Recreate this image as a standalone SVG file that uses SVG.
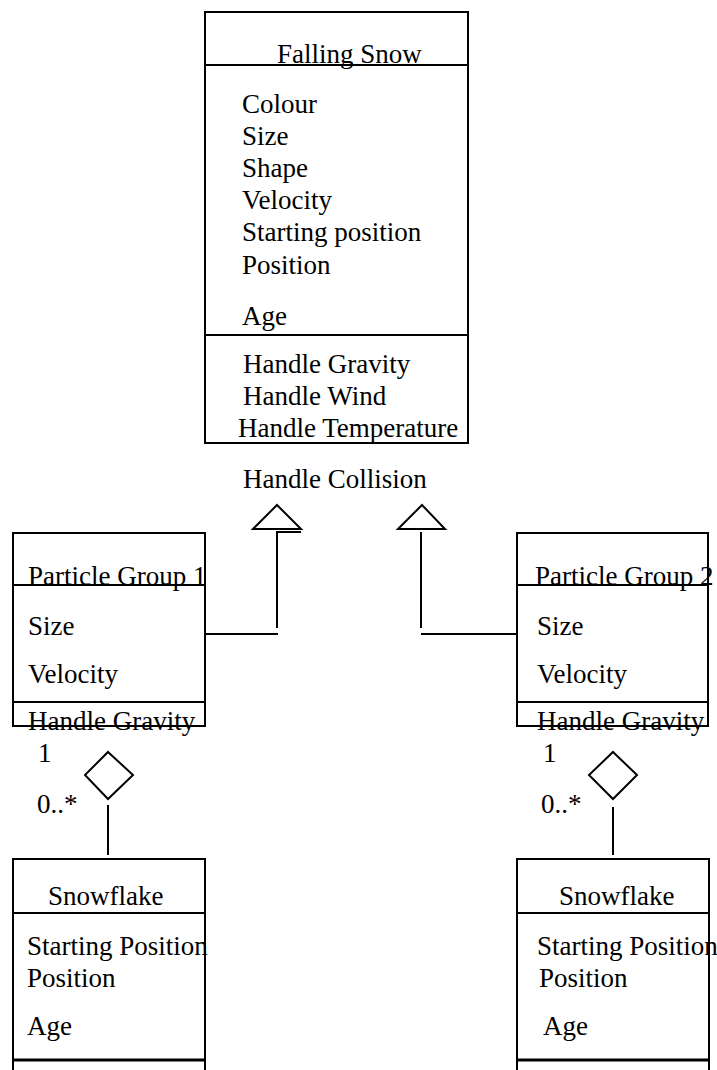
<svg xmlns="http://www.w3.org/2000/svg" width="717" height="1070" viewBox="0 0 717 1070">
<style>
text{font-family:'Liberation Serif','DejaVu Serif',serif;font-size:27px;fill:#000}
.b{fill:none;stroke:#000;stroke-width:2}
.l{stroke:#000;stroke-width:2;fill:none}
.h{fill:#fff;stroke:#000;stroke-width:2}
</style>
<rect width="717" height="1070" fill="#fff"/>
<g font-family="Liberation Serif, DejaVu Serif, serif">
<g id="falling-snow">
<rect class="b" x="205" y="12" width="263" height="431"/>
<line class="l" x1="205" y1="65" x2="468" y2="65"/>
<line class="l" x1="205" y1="335" x2="468" y2="335"/>
<text x="277" y="63">Falling Snow</text>
<text x="242" y="113">Colour</text>
<text x="242" y="145">Size</text>
<text x="242" y="177">Shape</text>
<text x="242" y="209">Velocity</text>
<text x="242" y="241">Starting position</text>
<text x="242" y="274">Position</text>
<text x="242" y="325">Age</text>
<text x="243" y="373">Handle Gravity</text>
<text x="243" y="405">Handle Wind</text>
<text x="238" y="437">Handle Temperature</text>
<text x="243" y="488">Handle Collision</text>
</g>
<g id="particle-group-1">
<rect class="b" x="13" y="533" width="192" height="193"/>
<line class="l" x1="13" y1="585" x2="205" y2="585"/>
<line class="l" x1="13" y1="702" x2="205" y2="702"/>
<text x="28" y="585">Particle Group 1</text>
<text x="28" y="635">Size</text>
<text x="28" y="683">Velocity</text>
<text x="28" y="730">Handle Gravity</text>
<line class="l" x1="13" y1="726" x2="205" y2="726"/>
</g>
<g id="particle-group-2">
<rect class="b" x="517" y="533" width="191" height="193"/>
<line class="l" x1="517" y1="585" x2="708" y2="585"/>
<line class="l" x1="517" y1="702" x2="708" y2="702"/>
<text x="535" y="585">Particle Group 2</text>
<text x="537" y="635">Size</text>
<text x="537" y="683">Velocity</text>
<text x="537" y="730">Handle Gravity</text>
<line class="l" x1="517" y1="726" x2="708" y2="726"/>
</g>
<g id="snowflake-1">
<path class="l" d="M13,1070 V859 H205 V1070"/>
<line class="l" x1="13" y1="913" x2="205" y2="913"/>
<line x1="13" y1="1060" x2="205" y2="1060" stroke="#000" stroke-width="3"/>
<text x="48" y="905">Snowflake</text>
<text x="27" y="955">Starting Position</text>
<text x="27" y="987">Position</text>
<text x="27" y="1035">Age</text>
</g>
<g id="snowflake-2">
<path class="l" d="M517,1070 V859 H709 V1070"/>
<line class="l" x1="517" y1="913" x2="709" y2="913"/>
<line x1="517" y1="1060" x2="709" y2="1060" stroke="#000" stroke-width="3"/>
<text x="559" y="905">Snowflake</text>
<text x="537" y="955">Starting Position</text>
<text x="539" y="987">Position</text>
<text x="543" y="1035">Age</text>
</g>
<g id="connectors">
<polyline class="l" points="205,634 278,634"/>
<polyline class="l" points="277,628 277,532 301,532"/>
<polygon class="h" points="253,529 277,505 301,529"/>
<polyline class="l" points="421,532 421,628"/>
<polyline class="l" points="421,634 517,634"/>
<polygon class="h" points="398,529 422,505 445,529"/>
<polygon class="h" points="108,752 133,775 108,799 85,775"/>
<line class="l" x1="108" y1="805" x2="108" y2="855"/>
<text x="38" y="762">1</text>
<text x="37" y="813">0..*</text>
<polygon class="h" points="613,752 637,775 613,799 589,775"/>
<line class="l" x1="613" y1="807" x2="613" y2="855"/>
<text x="543" y="762">1</text>
<text x="541" y="813">0..*</text>
</g>
</g>
</svg>
